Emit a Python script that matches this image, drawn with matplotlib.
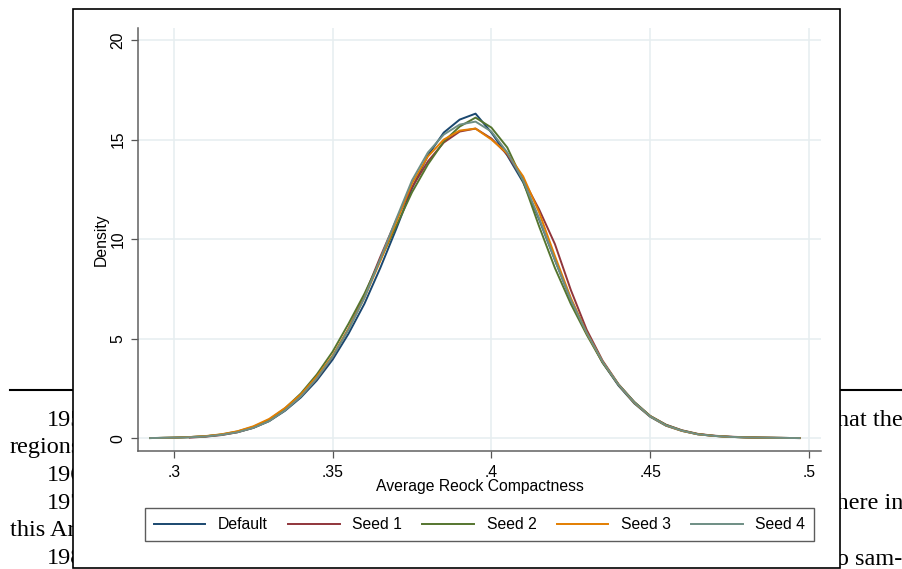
import numpy as np
import matplotlib
matplotlib.use("Agg")
import matplotlib.pyplot as plt
from matplotlib.patches import Rectangle
from matplotlib.lines import Line2D

plt.rcParams["font.family"] = ["Liberation Sans", "DejaVu Sans"]

# evaluation points of the kernel densities
x = [0.2925, 0.295, 0.300, 0.305, 0.310, 0.315, 0.320, 0.325, 0.330, 0.335,
     0.340, 0.345, 0.350, 0.355, 0.360, 0.365, 0.370, 0.375, 0.380, 0.385,
     0.390, 0.395, 0.400, 0.405, 0.410, 0.415, 0.420, 0.425, 0.430, 0.435,
     0.440, 0.445, 0.450, 0.455, 0.460, 0.465, 0.470, 0.475, 0.480, 0.485,
     0.490, 0.495, 0.497]

default = [0.01, 0.015, 0.03, 0.06, 0.10, 0.18, 0.31, 0.52, 0.86, 1.38,
           2.05, 2.90, 3.95, 5.25, 6.75, 8.55, 10.50, 12.55, 14.20, 15.35,
           16.00, 16.30, 15.35, 14.20, 12.85, 11.00, 8.95, 6.95, 5.30, 3.80,
           2.65, 1.75, 1.08, 0.63, 0.37, 0.20, 0.12, 0.07, 0.045, 0.03,
           0.02, 0.012, 0.01]
seed1 = [np.nan, np.nan, np.nan, 0.03, 0.08, 0.16, 0.30, 0.53, 0.88, 1.42,
         2.12, 3.00, 4.10, 5.50, 7.15, 9.10, 10.95, 12.60, 13.90, 14.85,
         15.40, 15.55, 15.05, 14.25, 13.00, 11.50, 9.75, 7.45, 5.45, 3.90,
         2.72, 1.82, 1.12, 0.68, 0.40, 0.22, 0.13, 0.08, 0.05, 0.03,
         0.02, 0.012, 0.01]
seed2 = [0.01, 0.015, 0.03, 0.06, 0.10, 0.19, 0.34, 0.57, 0.93, 1.50,
         2.25, 3.20, 4.35, 5.75, 7.25, 8.95, 10.65, 12.35, 13.75, 14.90,
         15.65, 16.10, 15.60, 14.60, 12.90, 10.65, 8.55, 6.75, 5.20, 3.80,
         2.70, 1.82, 1.12, 0.67, 0.39, 0.21, 0.12, 0.07, 0.045, 0.03,
         0.02, 0.012, 0.01]
seed3 = [0.01, 0.015, 0.03, 0.06, 0.11, 0.20, 0.35, 0.60, 0.97, 1.52,
         2.20, 3.10, 4.15, 5.50, 7.05, 8.90, 10.85, 12.80, 14.15, 15.00,
         15.45, 15.55, 15.00, 14.30, 13.15, 11.35, 9.15, 7.05, 5.30, 3.85,
         2.70, 1.78, 1.10, 0.64, 0.37, 0.20, 0.12, 0.07, 0.045, 0.03,
         0.02, 0.012, 0.01]
seed4 = [0.01, 0.015, 0.03, 0.05, 0.09, 0.17, 0.30, 0.52, 0.86, 1.40,
         2.10, 3.00, 4.10, 5.45, 7.05, 9.00, 11.00, 12.95, 14.35, 15.25,
         15.75, 15.90, 15.40, 14.35, 12.95, 11.05, 8.95, 6.95, 5.30, 3.85,
         2.70, 1.80, 1.10, 0.65, 0.38, 0.20, 0.12, 0.07, 0.045, 0.03,
         0.02, 0.012, 0.01]

series = [default, seed1, seed2, seed3, seed4]
names = ["Default", "Seed 1", "Seed 2", "Seed 3", "Seed 4"]
colors = ["#1a476f", "#90353b", "#55752f", "#e37e00", "#6e8e84"]

x_ticks = [0.3, 0.35, 0.4, 0.45, 0.5]
x_tick_labels = [".3", ".35", ".4", ".45", ".5"]
y_ticks = [0, 5, 10, 15, 20]
y_tick_labels = ["0", "5", "10", "15", "20"]

# page text showing behind the figure (text, x px, baseline px)
page_left = [("1950", 47, 426), ("regions", 10, 453), ("1960", 47, 481),
             ("1970", 47, 509), ("this Article", 10, 536), ("1980", 47, 564)]
page_right = [("that the", 903, 426), ("where in", 903, 509), ("to sam-", 902, 565)]

W, H = 903, 569


def fx(px):
    return px / W


def fy(py):
    return 1 - py / H


fig = plt.figure(figsize=(W / 100, H / 100), dpi=100)
fig.patch.set_facecolor("white")

for txt, px, py in page_left:
    fig.text(fx(px), fy(py), txt, family="Liberation Serif", size=17.5,
             ha="left", va="baseline", zorder=1)
for txt, px, py in page_right:
    fig.text(fx(px), fy(py), txt, family="Liberation Serif", size=17.5,
             ha="right", va="baseline", zorder=1)
fig.add_artist(Line2D([fx(10), fx(903)], [fy(390), fy(390)],
                      transform=fig.transFigure, color="black", lw=1.5, zorder=1))

# the pasted graph region
fig.add_artist(Rectangle((fx(73), fy(568)), fx(840) - fx(73), fy(9) - fy(568),
                         transform=fig.transFigure, facecolor="white",
                         edgecolor="black", lw=1.2, zorder=2))

ax = fig.add_axes([fx(138), fy(451), fx(821) - fx(138), fy(28) - fy(451)], zorder=3)

for y, name, c in zip(series, names, colors):
    ax.plot(x, y, color=c, lw=1.4, label=name)

ax.set_xlim(0.2887, 0.5038)
ax.set_ylim(-0.64, 20.6)
ax.set_xticks(x_ticks, x_tick_labels)
ax.set_yticks(y_ticks, y_tick_labels, rotation=90, va="center")
ax.grid(color="#e6eef0", lw=1.1)
ax.set_axisbelow(True)
for s in ["top", "right"]:
    ax.spines[s].set_visible(False)
for s in ["left", "bottom"]:
    ax.spines[s].set_color("#606060")
    ax.spines[s].set_linewidth(1.1)
ax.tick_params(direction="out", length=5, width=0.9, color="#555555",
               labelsize=11.3, labelcolor="black")
ax.tick_params(axis="x", pad=5)
ax.tick_params(axis="y", pad=4)

ax.set_xlabel("Average Reock Compactness", fontsize=11.3)
ax.xaxis.set_label_coords(0.5, (451 - 479) / 423)
ax.set_ylabel("Density", fontsize=11.3)
ax.yaxis.set_label_coords((109 - 138) / 683, 0.5)

leg = ax.legend(loc="center",
                bbox_to_anchor=(fx(145), fy(542), fx(814) - fx(145), fy(507) - fy(542)),
                bbox_transform=fig.transFigure, mode="expand", ncol=5,
                frameon=True, fancybox=False, edgecolor="#333333",
                handlelength=3.3, handletextpad=0.8, fontsize=11.3,
                borderaxespad=0, borderpad=0.55)
leg.get_frame().set_linewidth(1.0)

fig.savefig("out.png", dpi=100)
